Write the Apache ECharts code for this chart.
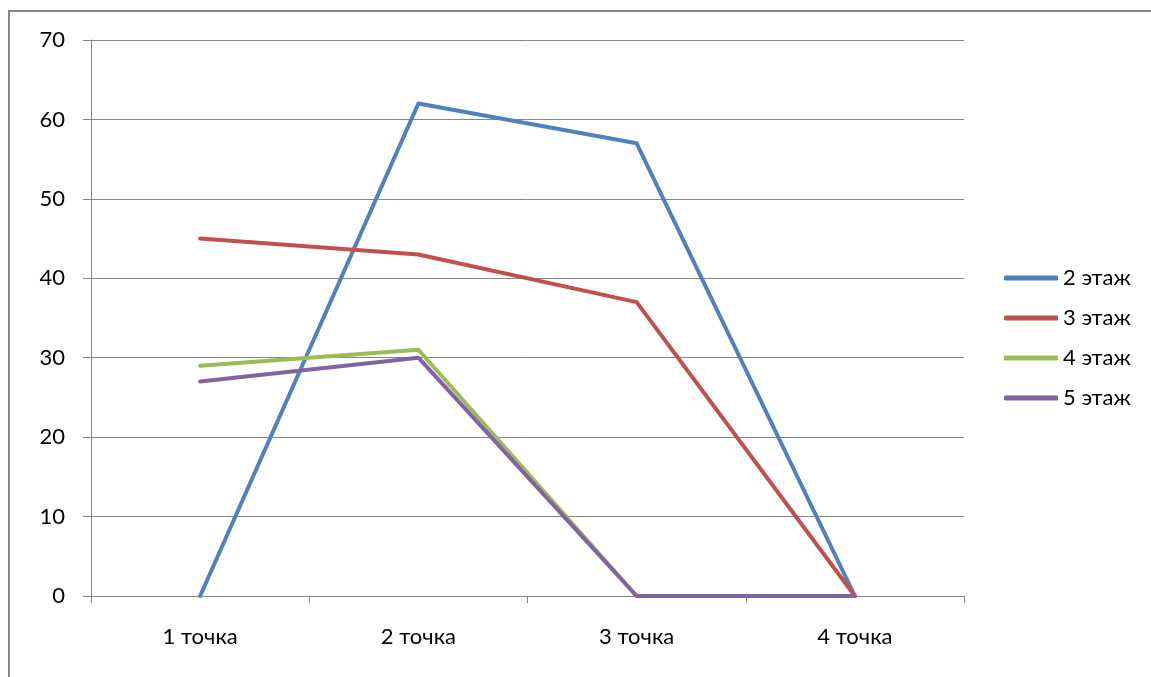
<!DOCTYPE html>
<html>
<head>
<meta charset="utf-8">
<script src="https://cdn.jsdelivr.net/npm/echarts@6/dist/echarts.min.js"></script>
<style>
  html, body { margin: 0; padding: 0; background: #fff; }
  #chart { width: 1151px; height: 677px; }
</style>
</head>
<body>
<div id="chart"></div>
<script>
// Measurement points along the x axis
const categories = ['1 точка', '2 точка', '3 точка', '4 точка'];

// Readings per floor
const floor2 = [0, 62, 57, 0];
const floor3 = [45, 43, 37, 0];
const floor4 = [29, 31, 0, 0];
const floor5 = [27, 30, 0, 0];

const seriesNames = ['2 этаж', '3 этаж', '4 этаж', '5 этаж'];
const seriesColors = ['#4F81BD', '#C0504D', '#9BBB59', '#8064A2'];
const seriesData = [floor2, floor3, floor4, floor5];

const axisGray = '#868686';
const fontFamily = 'Lato, "Open Sans", sans-serif';

const chart = echarts.init(document.getElementById('chart'));

chart.setOption({
  animation: false,
  backgroundColor: '#fff',
  textStyle: { fontFamily: fontFamily },
  graphic: [{
    type: 'rect',
    shape: { x: 9, y: 11, width: 1200, height: 720 },
    style: { fill: 'none', stroke: axisGray, lineWidth: 2 },
    silent: true,
    z: -1
  }],
  grid: { left: 91, top: 40, right: 187, bottom: 81, containLabel: false },
  legend: {
    orient: 'vertical',
    left: 1004,
    top: 266,
    padding: 0,
    itemWidth: 54,
    itemHeight: 5,
    itemGap: 16,
    itemTextGap: 4,
    icon: 'roundRect',
    data: seriesNames,
    textStyle: { fontSize: 22, color: '#000', lineHeight: 24, fontFamily: fontFamily }
  },
  xAxis: {
    type: 'category',
    data: categories,
    boundaryGap: true,
    axisLine: { show: true, lineStyle: { color: axisGray, width: 1 } },
    axisTick: { show: true, length: 7, lineStyle: { color: axisGray } },
    axisLabel: { color: '#000', fontSize: 22, margin: 30, fontFamily: fontFamily },
    splitLine: { show: false }
  },
  yAxis: {
    type: 'value',
    min: 0,
    max: 70,
    interval: 10,
    axisLine: { show: true, lineStyle: { color: axisGray, width: 1 } },
    axisTick: { show: true, length: 8, lineStyle: { color: axisGray } },
    axisLabel: { color: '#000', fontSize: 22, margin: 26, fontFamily: fontFamily },
    splitLine: { show: true, lineStyle: { color: axisGray, width: 1 } }
  },
  series: seriesNames.map((name, i) => ({
    name: name,
    type: 'line',
    data: seriesData[i],
    showSymbol: false,
    symbol: 'none',
    color: seriesColors[i],
    lineStyle: { width: 4, color: seriesColors[i], cap: 'round', join: 'round' }
  }))
});
</script>
</body>
</html>
